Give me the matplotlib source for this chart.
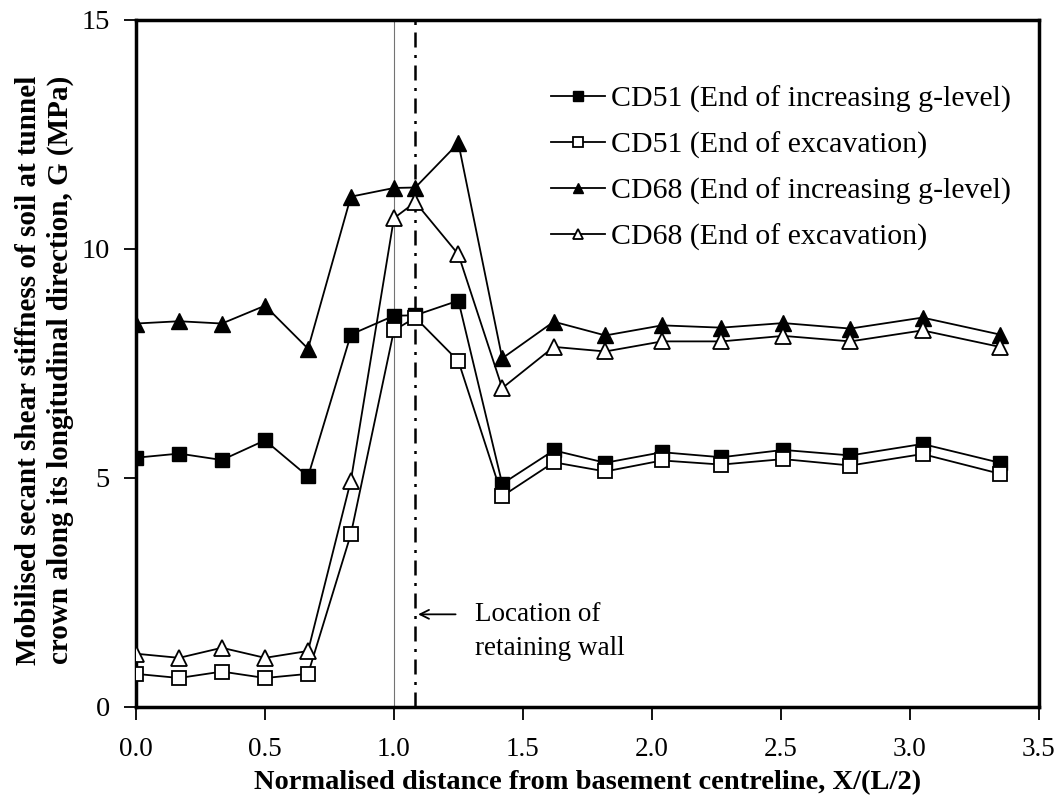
import matplotlib.pyplot as plt
import numpy as np

plt.rcParams['font.family'] = ['Liberation Serif', 'DejaVu Serif']

# normalised distance X/(L/2)
x = [0.0, 0.167, 0.333, 0.5, 0.667, 0.833, 1.0, 1.083, 1.25, 1.42,
     1.62, 1.82, 2.04, 2.27, 2.51, 2.77, 3.05, 3.35]

# mobilised secant shear stiffness G (MPa)
cd51_g = [5.44, 5.53, 5.39, 5.82, 5.03, 8.13, 8.54, 8.55, 8.87, 4.87,
          5.60, 5.33, 5.56, 5.45, 5.61, 5.49, 5.74, 5.33]
cd51_exc = [0.72, 0.63, 0.77, 0.63, 0.72, 3.77, 8.22, 8.50, 7.55, 4.60,
            5.34, 5.14, 5.38, 5.29, 5.41, 5.27, 5.52, 5.09]
cd68_g = [8.37, 8.42, 8.37, 8.76, 7.82, 11.14, 11.33, 11.34, 12.31, 7.61,
          8.41, 8.11, 8.33, 8.28, 8.38, 8.26, 8.50, 8.13]
cd68_exc = [1.16, 1.07, 1.29, 1.07, 1.22, 4.94, 10.67, 11.02, 9.88, 6.96,
            7.86, 7.76, 7.98, 7.98, 8.10, 7.98, 8.22, 7.86]

labels = ['CD51 (End of increasing g-level)', 'CD51 (End of excavation)',
          'CD68 (End of increasing g-level)', 'CD68 (End of excavation)']

wall_x = 1.083

fig = plt.figure(figsize=(10.63, 7.96), dpi=100)
ax = fig.add_axes([0.128, 0.112, 0.849, 0.863])

# basement edge and retaining wall
ax.axvline(1.0, color='0.45', lw=0.8, zorder=1)
ax.axvline(wall_x, color='black', lw=1.8, ls=(0, (6, 3, 1.2, 3)), zorder=1)

ms = 10
ax.plot(x, cd51_g, '-', color='black', lw=1.3, marker='s', ms=ms,
        mfc='black', mec='black', label=labels[0], zorder=3)
ax.plot(x, cd51_exc, '-', color='black', lw=1.3, marker='s', ms=ms,
        mfc='white', mec='black', mew=1.3, label=labels[1], zorder=3)
ax.plot(x, cd68_g, '-', color='black', lw=1.3, marker='^', ms=ms + 1,
        mfc='black', mec='black', label=labels[2], zorder=3)
ax.plot(x, cd68_exc, '-', color='black', lw=1.3, marker='^', ms=ms + 1,
        mfc='white', mec='black', mew=1.3, label=labels[3], zorder=3)

ax.set_xlim(0, 3.5)
ax.set_ylim(0, 15)
ax.set_xticks(np.arange(0, 3.51, 0.5))
ax.set_xticklabels(['%.1f' % v for v in np.arange(0, 3.51, 0.5)])
ax.set_yticks([0, 5, 10, 15])

for s in ax.spines.values():
    s.set_linewidth(2.5)

ax.tick_params(axis='x', direction='out', length=9, width=1.3, labelsize=19.5, pad=13)
ax.tick_params(axis='y', direction='out', length=9, width=1.3, labelsize=20.5, pad=10)

ax.set_xlabel('Normalised distance from basement centreline, X/(L/2)',
              fontsize=20.5, fontweight='bold', va='bottom')
ax.xaxis.set_label_coords(0.5, -0.128)
ax.set_ylabel('Mobilised secant shear stiffness of soil at tunnel\n'
              'crown along its longitudinal direction, G (MPa)',
              fontsize=21, fontweight='bold', linespacing=1.2)
ax.yaxis.set_label_coords(-0.069, 0.49)

# annotation for the retaining wall
ax.annotate('', xy=(wall_x, 2.02), xytext=(1.25, 2.02),
            arrowprops=dict(arrowstyle='->', color='black', lw=1.3,
                            mutation_scale=16))
ax.text(1.315, 2.3, 'Location of\nretaining wall', fontsize=19.5,
        va='top', ha='left', linespacing=1.5)

leg = ax.legend(loc='upper right', bbox_to_anchor=(0.999, 0.943), frameon=False,
                fontsize=21.5, handlelength=1.8, handletextpad=0.2,
                labelspacing=0.62, markerscale=0.65)

fig.savefig('out.png', dpi=100)
